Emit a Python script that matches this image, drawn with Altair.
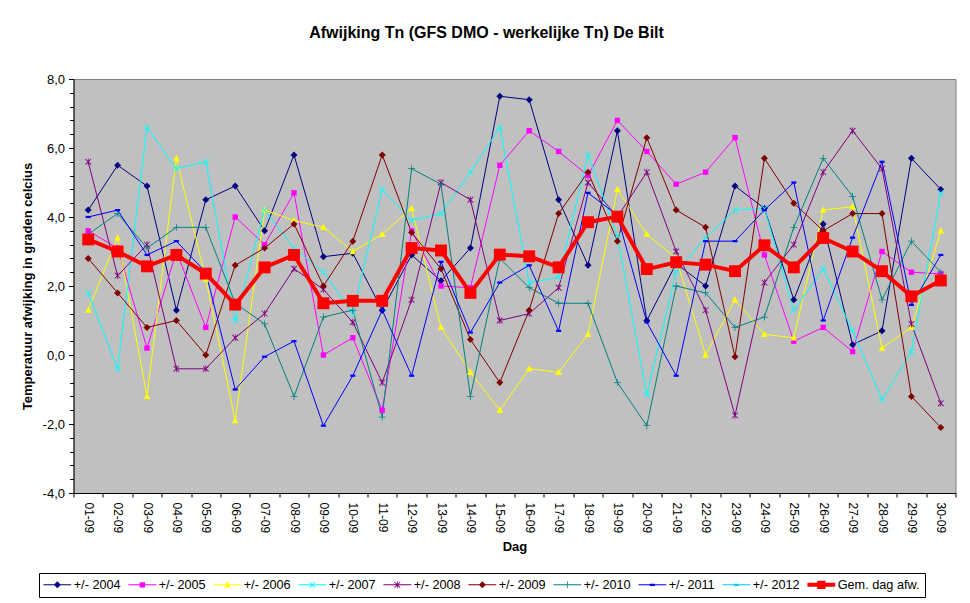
import sys
import altair as alt
import pandas as pd

days = [f"{d:02d}-09" for d in range(1, 31)]
series_names = ["+/- 2004", "+/- 2005", "+/- 2006", "+/- 2007", "+/- 2008",
                "+/- 2009", "+/- 2010", "+/- 2011", "+/- 2012", "Gem. dag afw."]
series_colors = ["#000080", "#FF00FF", "#FFFF00", "#00FFFF", "#800080",
                 "#800000", "#008080", "#0000FF", "#00CCFF", "#FF0000"]

v2004 = [4.2, 5.5, 4.9, 1.3, 4.5, 4.9, 3.6, 5.8, 2.85, 2.95, 1.3, 2.9, 2.15, 3.1, 7.5,
         7.4, 4.5, 2.6, 6.5, 1.0, 2.65, 2.0, 4.9, 4.25, 1.6, 3.8, 0.3, 0.7, 5.7, 4.8]
v2005 = [3.6, 3.1, 0.2, 3.0, 0.8, 4.0, 3.2, 4.7, 0.0, 0.5, -1.6, 3.6, 2.0, 1.95, 5.5,
         6.5, 5.9, 5.2, 6.8, 5.9, 4.95, 5.3, 6.3, 2.9, 0.4, 0.8, 0.1, 3.0, 2.4, 2.35]
v2006 = [1.3, 3.4, -1.2, 5.7, 2.2, -1.9, 4.2, 3.9, 3.7, 3.0, 3.5, 4.25, 0.8, -0.5, -1.6,
         -0.4, -0.5, 0.6, 4.8, 3.5, 2.8, 0.0, 1.6, 0.6, 0.5, 4.2, 4.3, 0.2, 0.8, 3.6]
v2007 = [1.8, -0.4, 6.6, 5.4, 5.6, 1.0, 4.2, 3.1, 2.4, 1.2, 4.8, 3.9, 4.1, 5.3, 6.6,
         2.1, 2.25, 5.8, 3.45, -1.15, 2.4, 3.4, 4.2, 4.25, 1.3, 2.5, 0.7, -1.3, 0.1, 4.7]
v2008 = [5.6, 2.3, 3.2, -0.4, -0.4, 0.5, 1.2, 2.5, 1.9, 0.95, -0.8, 1.6, 5.0, 4.5, 1.0,
         1.2, 1.95, 5.0, 4.0, 5.3, 3.0, 1.3, -1.75, 2.1, 3.2, 5.3, 6.5, 5.4, 0.9, -1.4]
v2009 = [2.8, 1.8, 0.8, 1.0, 0.0, 2.6, 3.1, 3.8, 2.0, 3.3, 5.8, 3.55, 2.5, 0.45, -0.8,
         1.3, 4.1, 5.3, 3.3, 6.3, 4.2, 3.7, -0.05, 5.7, 4.4, 3.6, 4.1, 4.1, -1.2, -2.1]
v2010 = [3.5, 4.1, 3.1, 3.7, 3.7, 1.5, 0.9, -1.2, 1.1, 1.3, -1.8, 5.4, 4.95, -1.2, 2.8,
         1.95, 1.5, 1.5, -0.8, -2.05, 2.0, 1.8, 0.8, 1.1, 3.7, 5.7, 4.6, 1.6, 3.3, 2.4]
v2011 = [4.0, 4.2, 2.9, 3.3, 2.4, -1.0, -0.05, 0.4, -2.05, -0.6, 1.3, -0.6, 2.7, 0.65, 2.1,
         2.6, 0.7, 4.7, 4.05, 0.95, -0.6, 3.3, 3.3, 4.2, 5.0, 1.0, 3.4, 5.6, 1.45, 2.9]
v2012 = []  # no data for 2012 in the reference
vavg = [3.35, 3.0, 2.57, 2.9, 2.36, 1.46, 2.54, 2.9, 1.5, 1.57, 1.57, 3.1, 3.03, 1.8, 2.91,
        2.86, 2.54, 3.85, 4.01, 2.49, 2.69, 2.62, 2.43, 3.18, 2.54, 3.39, 3.0, 2.43, 1.7, 2.16]

y_major = [-4, -2, 0, 2, 4, 6, 8]
y_minor = [round(-4 + 0.4 * i, 1) for i in range(31)]

all_values = [v2004, v2005, v2006, v2007, v2008, v2009, v2010, v2011, v2012, vavg]

rows = []
for name, vals in zip(series_names, all_values):
    for d, v in zip(days, vals):
        rows.append({"serie": name, "dag": d, "waarde": v})
df = pd.DataFrame(rows)

# marker shapes (unit box -1..1)
DIAMOND = "M0,-1.1L1.1,0L0,1.1L-1.1,0Z"
SQUARE = "M-0.85,-0.85H0.85V0.85H-0.85Z"
TRIANGLE = "M0,-1.15L1.05,0.85H-1.05Z"
XMARK = "M-1,-0.8L-0.8,-1L1,0.8L0.8,1Z M0.8,-1L1,-0.8L-0.8,1L-1,0.8Z"
STAR = XMARK + " M-0.12,-1.1H0.12V1.1H-0.12Z"
PLUS = "M-1.1,-0.12H1.1V0.12H-1.1Z M-0.12,-1.1H0.12V1.1H-0.12Z"
DASH = "M-0.8,-0.35H0.8V0.35H-0.8Z"
BIGSQ = "M-0.9,-0.9H0.9V0.9H-0.9Z"
series_shapes = [DIAMOND, SQUARE, TRIANGLE, XMARK, STAR, DIAMOND, PLUS, DASH, DASH, BIGSQ]

THIN = "M-4.4,-0.17H4.4V0.17H-4.4Z "
legend_shapes = [THIN + s for s in series_shapes[:-1]] + \
    ["M-4.4,-0.63H4.4V0.63H-4.4Z M-1.3,-1.3H1.3V1.3H-1.3Z"]

FONT = "Liberation Sans"


def build(grid_color):
    legend = alt.Legend(
        orient="none", legendX=-34.5, legendY=494, direction="horizontal", columns=10,
        labelFont=FONT, labelFontSize=12.7, labelColor="black",
        symbolSize=40, symbolOffset=7, labelOffset=10, columnPadding=7,
        padding=5, strokeColor="black", fillColor="white", symbolOpacity=1,
        symbolStrokeWidth=0,
    )
    color_enc = alt.Color("serie:N", scale=alt.Scale(domain=series_names, range=series_colors),
                          legend=legend, title="")
    shape_enc = alt.Shape("serie:N", scale=alt.Scale(domain=series_names, range=legend_shapes),
                          legend=legend, title="")

    x_enc = alt.X("dag:N", sort=days, scale=alt.Scale(domain=days, paddingInner=0, paddingOuter=0),
                  axis=alt.Axis(title="Dag", labelAngle=90, labelAlign="left", labelBaseline="middle",
                                labelPadding=5, tickBand="extent", tickSize=4, tickColor="black",
                                domainColor="black", labelFont=FONT, labelFontSize=12, labelColor="black",
                                titleFont=FONT, titleFontSize=13, titleFontWeight="bold", titleColor="black",
                                titlePadding=8, grid=False))
    y_scale = alt.Scale(domain=[-4, 8], nice=False, zero=False)
    y_main = alt.Y("waarde:Q", scale=y_scale,
                   axis=alt.Axis(title="Temperatuur afwijking in graden celcius", values=y_major,
                                 labelExpr="(datum.value < 0 ? '-' : '') + replace(format(abs(datum.value), '.1f'), '.', ',')",
                                 tickSize=5, tickColor="black", domainColor="black", orient="left",
                                 gridColor=grid_color, gridWidth=1, gridOpacity=1,
                                 labelFont=FONT, labelFontSize=13, labelColor="black",
                                 labelPadding=4, titleFont=FONT, titleFontSize=13, titleFontWeight="bold",
                                 titleColor="black", titlePadding=8))
    y_minor_axis = alt.Y("waarde:Q", scale=y_scale,
                         axis=alt.Axis(title=None, values=y_minor, labels=False, grid=False, domain=False,
                                       tickSize=4, tickColor="black", orient="left"))
    y_none = alt.Y("waarde:Q", scale=y_scale, axis=None)

    base = alt.Chart(df)
    legend_layer = base.transform_filter("false").mark_point(filled=True, size=40, opacity=1).encode(
        x=x_enc, y=y_none, color=color_enc, shape=shape_enc)
    year_lines = base.transform_filter(alt.datum.serie != "Gem. dag afw.").mark_line(strokeWidth=1).encode(
        x=x_enc, y=y_main, color=color_enc, detail="serie:N")
    layers = [legend_layer, year_lines]
    for name, shp in zip(series_names[:8], series_shapes[:8]):
        layers.append(base.transform_filter(alt.datum.serie == name).mark_point(
            shape=shp, filled=True, size=40, opacity=1).encode(x=x_enc, y=y_none, color=color_enc))
    avg = base.transform_filter(alt.datum.serie == "Gem. dag afw.")
    layers.append(avg.mark_line(strokeWidth=4).encode(x=x_enc, y=y_minor_axis, color=color_enc))
    layers.append(avg.mark_point(shape=BIGSQ, filled=True, size=175, opacity=1).encode(
        x=x_enc, y=y_none, color=color_enc))

    ch = alt.layer(*layers).resolve_axis(y="independent").properties(
        width=882, height=414,
        title=alt.TitleParams("Afwijking Tn (GFS DMO - werkelijke Tn) De Bilt", font=FONT, fontSize=16,
                              fontWeight="bold", color="black", anchor="middle", offset=32, dx=-28),
        autosize=alt.AutoSizeParams(type="none"),
        padding={"left": 65.5, "top": 71, "right": 6, "bottom": 110},
        background="white",
    ).configure_view(fill="#C0C0C0", stroke="#808080")
    ch.to_dict()
    return ch


chart = None
for gc in [{"condition": {"test": "datum.value == 8", "value": "#808080"}, "value": "black"}, "black"]:
    try:
        chart = build(gc)
        break
    except Exception as e:
        print("attempt failed:", str(e)[:400], file=sys.stderr)

chart.save("out.html", embed_options={"renderer": "svg", "actions": False})
